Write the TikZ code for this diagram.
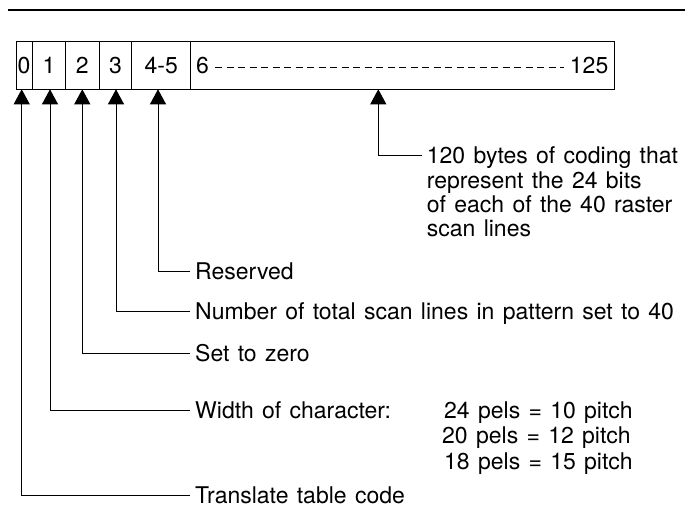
\documentclass[tikz,border=0pt]{standalone}
\usepackage{fontspec}
\setmainfont[WordSpace=1.3]{TeX Gyre Heros}
\usetikzlibrary{arrows.meta}
\begin{document}
\begin{tikzpicture}[x=1pt,y=-1pt,
  every node/.style={font=\fontsize{23}{24}\selectfont},
  lbl/.style={anchor=west, inner xsep=5pt, inner ysep=0pt, text height=16.5pt, text depth=0pt},
  cell/.style={inner sep=0pt, text height=16.5pt, text depth=0pt},
  conn/.style={line width=0.9pt, -{Triangle[length=15pt,width=16pt]}},
  boxline/.style={line width=0.9pt},
  dashline/.style={line width=0.9pt, dash pattern=on 7pt off 4.5pt}
  ]
\useasboundingbox (0,0) rectangle (685,508);
\draw[line width=1.3pt] (8,10) -- (685,10);
% record box
\draw[boxline] (16,41.7) rectangle (614.5,89.3);
\foreach \x in {32.3,65.7,99,131.7,190.7} \draw[boxline] (\x,41.7) -- (\x,89.3);
\node[cell] (c0) at (24,65.5) {0};
\node[cell] (c1) at (49,65.5) {1};
\node[cell] (c2) at (82.3,65.5) {2};
\node[cell] (c3) at (115.4,65.5) {3};
\node[cell] (c45) at (161.2,65.5) {4-5};
\node[cell, anchor=west] (c6) at (196,65.5) {6};
\node[cell, anchor=east] (c125) at (608.5,65.5) {125};
\draw[dashline] ([shift={(6,1.5)}]c6.east) -- ([shift={(-6,1.5)}]c125.west);
% arrow tips
\coordinate (t0) at (21.7,89.3);
\coordinate (t1) at (50,89.3);
\coordinate (t2) at (82.3,89.3);
\coordinate (t3) at (116,89.3);
\coordinate (t45) at (158,89.3);
\coordinate (t6) at (378.3,89.3);
% labels
\node[lbl] (l6a) at (421.7,155) {120 bytes of coding that};
\node[lbl] (l6b) at (421.7,180) {represent the 24 bits};
\node[lbl] (l6c) at (421.7,204.5) {of each of the 40 raster};
\node[lbl] (l6d) at (421.7,228.5) {scan lines};
\node[lbl] (l45) at (190,271.7) {Reserved};
\node[lbl] (l3) at (190,311) {Number of total scan lines in pattern set to 40};
\node[lbl] (l2) at (190,353) {Set to zero};
\node[lbl] (l1) at (190,410) {Width of character:};
\node[lbl] (p1) at (439,410) {24 pels = 10 pitch};
\node[lbl] (p2) at (437,435.5) {20 pels = 12 pitch};
\node[lbl] (p3) at (439,461) {18 pels = 15 pitch};
\node[lbl] (l0) at (190,495) {Translate table code};
% connectors
\draw[conn] (l6a.west) -| (t6);
\draw[conn] (l45.west) -| (t45);
\draw[conn] (l3.west) -| (t3);
\draw[conn] (l2.west) -| (t2);
\draw[conn] (l1.west) -| (t1);
\draw[conn] (l0.west) -| (t0);
\end{tikzpicture}
\end{document}
